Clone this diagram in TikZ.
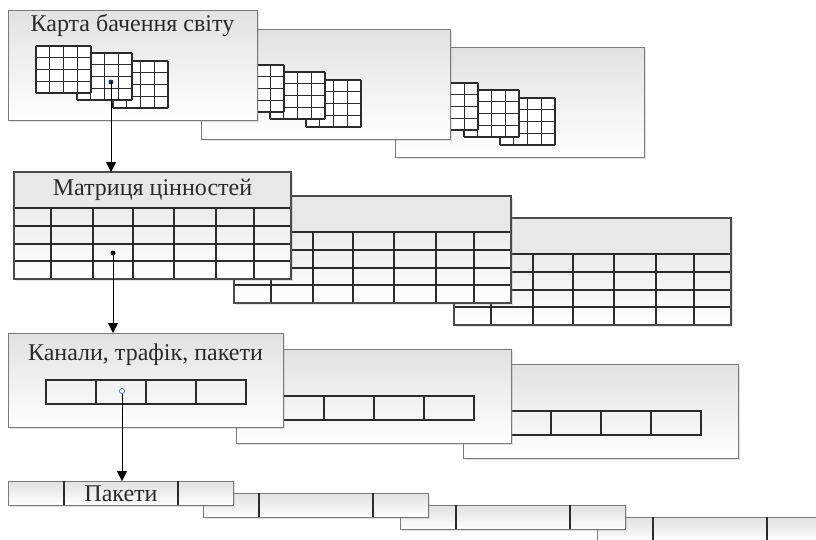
\documentclass[tikz,border=0pt]{standalone}
\usepackage{fontspec}
\setmainfont{Liberation Serif}
\usetikzlibrary{arrows.meta,shadows}
\definecolor{bord}{HTML}{7A7A7A}
\definecolor{gline}{HTML}{2B2B2B}
\definecolor{topg}{HTML}{E2E2E2}
\definecolor{hdr}{HTML}{E8E8E8}
\definecolor{txt}{HTML}{2A2A2A}
\definecolor{navy}{HTML}{1F2F55}
\definecolor{dotblue}{HTML}{3D6AA8}
\tikzset{
  panel/.style={rectangle, draw=bord, line width=1.1pt, top color=topg, bottom color=white,
    drop shadow={opacity=0.22, shadow xshift=1.3pt, shadow yshift=-1.3pt},
    inner sep=0pt, anchor=north west},
  gl/.style={draw=gline, line width=1.1pt},
  tb/.style={draw=gline!85!white, line width=1.1pt},
  ttl/.style={font=\fontsize{24}{28}\selectfont, text=txt, inner sep=0pt},
  arr/.style={draw=black, line width=0.9pt, -{Triangle[length=10pt,width=10pt]}},
}
\newcommand\cgrid[2]{%
  \fill[white] (#1,#2) rectangle ++(55,47);
  \foreach \k in {0,...,4}{
    \draw[gl] ({#1+\k*13.75},#2) -- ++(0,47);
    \draw[gl] (#1,{#2+\k*11.75}) -- ++(55,0);
  }}
\newcommand\mapbox[3]{%
  \node[panel, minimum width=249pt, minimum height=110pt] (#3) at (#1,#2) {};
  \cgrid{#1+105}{#2+51}\cgrid{#1+69}{#2+43}\cgrid{#1+28}{#2+36}}
\newcommand\mtab[3]{%
  \node[panel, draw=none, minimum width=277pt, minimum height=107pt] (#3) at (#1,#2) {};
  \fill[hdr] (#1,#2) rectangle ++(277,36);
  \foreach \c in {37,79,119,160,202,240} \draw[gl] ({#1+\c},#2+36) -- ++(0,71);
  \foreach \r in {36,54,72,89} \draw[gl] (#1,{#2+\r}) -- ++(277,0);
  \draw[tb] (#1,#2) rectangle ++(277,107);}
\newcommand\chbox[3]{%
  \node[panel, minimum width=275pt, minimum height=94pt] (#3) at (#1,#2) {};
  \draw[gl] (#1+38,#2+47) rectangle ++(200,24);
  \foreach \c in {50,100,150} \draw[gl] ({#1+38+\c},#2+47) -- ++(0,24);}
\newcommand\pkstrip[3]{%
  \node[panel, minimum width=225pt, minimum height=24pt] (#3) at (#1,#2) {};
  \draw[gl] (#1+56,#2) -- ++(0,24);
  \draw[gl] (#1+170,#2) -- ++(0,24);}
\begin{document}
\begin{tikzpicture}[x=1pt,y=-1pt]
\useasboundingbox (0,0) rectangle (816,539);
\clip (0,0) rectangle (816,539);
\fill[white] (0,0) rectangle (816,539);
% section 1
\mapbox{395}{47}{map3}
\mapbox{201}{29}{map2}
\mapbox{8}{10}{map1}
\node[ttl] (t1) at (132.5,25) {Карта бачення світу};
% section 2
\mtab{454}{218}{mat3}
\mtab{234}{196}{mat2}
\mtab{14}{172}{mat1}
\node[ttl] (t2) at (152.5,190) {Матриця цінностей};
% section 3
\chbox{463}{364}{ch3}
\chbox{236}{349}{ch2}
\chbox{8}{333}{ch1}
\node[ttl] (t3) at (145.5,355) {Канали, трафік, пакети};
% section 4
\pkstrip{597}{517}{pk4}
\pkstrip{400}{505}{pk3}
\pkstrip{203}{493}{pk2}
\pkstrip{8}{481}{pk1}
\node[ttl] (t4) at (121,493.5) {Пакети};
% dots and connectors
\node[circle, fill=navy, inner sep=0pt, minimum size=5pt] (d1) at (111,82) {};
\node[circle, fill=black, inner sep=0pt, minimum size=5pt] (d2) at (113,253) {};
\node[circle, draw=dotblue, line width=0.8pt, fill=white, inner sep=0pt, minimum size=5pt] (d3) at (122,391) {};
\draw[arr] (d1.center) -- (d1.center |- mat1.north);
\draw[arr] (d2.center) -- (d2.center |- ch1.north);
\draw[arr] (d3.south) -- (d3.south |- pk1.north);
\end{tikzpicture}
\end{document}
